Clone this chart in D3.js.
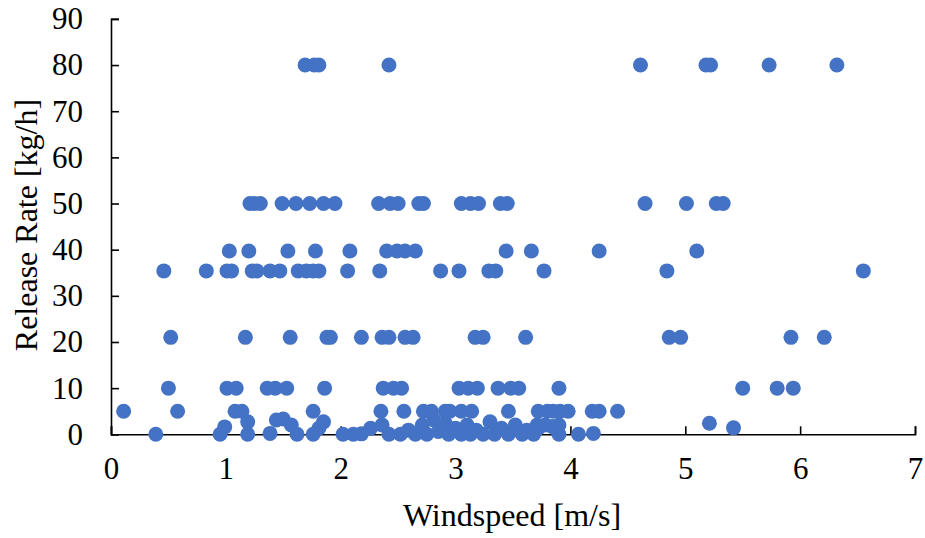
<!DOCTYPE html>
<html>
<head>
<meta charset="utf-8">
<script src="https://cdn.jsdelivr.net/npm/d3@7"></script>
<style>
  html, body { margin: 0; padding: 0; background: #fff; }
  svg { display: block; }
  text { font-family: "Liberation Serif", "Times New Roman", serif; fill: #000; }
</style>
</head>
<body>
<svg id="chart" width="925" height="538"></svg>
<script>
// Wind speed [m/s] and release rate [kg/h], grouped by release-rate level
const windspeed = [
  // 80 kg/h
  1.69, 1.77, 1.81, 2.42, 4.61, 5.18, 5.22, 5.73, 6.32,
  // 50 kg/h
  1.21, 1.25, 1.30, 1.49, 1.61, 1.73, 1.85, 1.95, 2.33, 2.43, 2.50, 2.68, 2.72,
  3.05, 3.13, 3.20, 3.39, 3.45, 4.65, 5.01, 5.27, 5.33,
  // 40 kg/h
  1.03, 1.20, 1.54, 1.78, 2.08, 2.40, 2.49, 2.56, 2.65, 3.44, 3.66, 4.25, 5.10,
  // 35 kg/h
  0.46, 0.83, 1.01, 1.05, 1.23, 1.27, 1.385, 1.47, 1.63, 1.70, 1.76, 1.81, 2.06,
  2.34, 2.87, 3.03, 3.29, 3.35, 3.77, 4.84, 6.55,
  // 21 kg/h
  0.52, 1.17, 1.56, 1.88, 1.91, 2.18, 2.36, 2.42, 2.56, 2.63, 3.17, 3.24, 3.61,
  4.86, 4.96, 5.92, 6.21,
  // 10 kg/h
  0.50, 1.01, 1.09, 1.36, 1.43, 1.53, 1.86, 2.37, 2.46, 2.53, 3.03, 3.11, 3.19,
  3.37, 3.48, 3.55, 3.90, 5.50, 5.80, 5.94,
  // 5 kg/h
  0.11, 0.58, 1.08, 1.14, 1.76, 2.35, 2.55, 2.72, 2.79, 2.91, 2.95, 3.05, 3.14,
  3.46, 3.72, 3.80, 3.85, 3.91, 3.98, 4.19, 4.25, 4.41,
  // small releases
  0.39, 0.95, 0.99, 1.19, 1.19, 1.385, 1.44, 1.50, 1.57, 1.62, 1.76, 1.81, 1.85,
  2.02, 2.11, 2.18, 2.26, 2.36, 2.42, 2.52, 2.59, 2.65, 2.71, 2.75, 2.81, 2.85,
  2.91, 2.94, 3.00, 3.05, 3.10, 3.13, 3.18, 3.24, 3.30, 3.34, 3.40, 3.46, 3.52,
  3.58, 3.62, 3.68, 3.71, 3.72, 3.78, 3.84, 3.90, 3.90, 4.07, 4.20, 5.21, 5.42
];
const releaseRate = [
  80, 80, 80, 80, 80, 80, 80, 80, 80,
  50, 50, 50, 50, 50, 50, 50, 50, 50, 50, 50, 50, 50,
  50, 50, 50, 50, 50, 50, 50, 50, 50,
  39.7, 39.7, 39.7, 39.7, 39.7, 39.7, 39.7, 39.7, 39.7, 39.7, 39.7, 39.7, 39.7,
  35.4, 35.4, 35.4, 35.4, 35.4, 35.4, 35.4, 35.4, 35.4, 35.4, 35.4, 35.4, 35.4,
  35.4, 35.4, 35.4, 35.4, 35.4, 35.4, 35.4, 35.4,
  21, 21, 21, 21, 21, 21, 21, 21, 21, 21, 21, 21, 21,
  21, 21, 21, 21,
  10, 10, 10, 10, 10, 10, 10, 10, 10, 10, 10, 10, 10,
  10, 10, 10, 10, 10, 10, 10,
  5, 5, 5, 5, 5, 5, 5, 5, 5, 5, 5, 5, 5,
  5, 5, 5, 5, 5, 5, 5, 5, 5,
  0, 0, 1.6, 2.7, 0, 0.2, 3.1, 3.3, 2.0, 0, 0, 1.3, 2.7,
  0, 0, 0.1, 1.3, 2.0, 0, 0, 0.9, 0, 2.0, 0, 3.1, 0.6,
  2.4, 0, 1.3, 0, 2.0, 0, 0.9, 0, 2.7, 0, 1.3, 0, 2.0,
  0, 0.9, 0, 2.0, 1.3, 2.0, 1.7, 2.0, 0, 0, 0.2, 2.4, 1.4
];

const xTicks = [0, 1, 2, 3, 4, 5, 6, 7];
const yTicks = [0, 10, 20, 30, 40, 50, 60, 70, 80, 90];

const points = windspeed.map((w, i) => ({ w, r: releaseRate[i] }));

const svg = d3.select("#chart");
const x = d3.scaleLinear().domain([0, 7]).range([111, 915]);
const y = d3.scaleLinear().domain([0, 90]).range([434.3, 18.9]);

// Axes with inward tick marks
const xAxis = svg.append("g")
  .attr("transform", `translate(0,${y(0)})`)
  .call(d3.axisBottom(x).tickValues(xTicks).tickSize(-8).tickPadding(23).tickFormat(d3.format("d")));
const yAxis = svg.append("g")
  .attr("transform", `translate(${x(0)},0)`)
  .call(d3.axisLeft(y).tickValues(yTicks).tickSize(-8).tickPadding(28).tickFormat(d3.format("d")));

[xAxis, yAxis].forEach(g => {
  g.select(".domain").attr("stroke", "#000").attr("stroke-width", 1.6);
  g.selectAll(".tick line").attr("stroke", "#000").attr("stroke-width", 1.6);
  g.selectAll(".tick text")
    .style("font-family", "'Liberation Serif', 'Times New Roman', serif")
    .style("font-size", "31px")
    .attr("fill", "#000");
});

// Markers
svg.append("g")
  .selectAll("circle")
  .data(points)
  .join("circle")
  .attr("cx", d => x(d.w))
  .attr("cy", d => y(d.r))
  .attr("r", 7.5)
  .attr("fill", "#4472C4");

// Axis titles
svg.append("text")
  .attr("x", 512)
  .attr("y", 526)
  .attr("text-anchor", "middle")
  .style("font-size", "32px")
  .text("Windspeed [m/s]");

svg.append("text")
  .attr("transform", "translate(37,225) rotate(-90)")
  .attr("text-anchor", "middle")
  .style("font-size", "32px")
  .text("Release Rate [kg/h]");
</script>
</body>
</html>
